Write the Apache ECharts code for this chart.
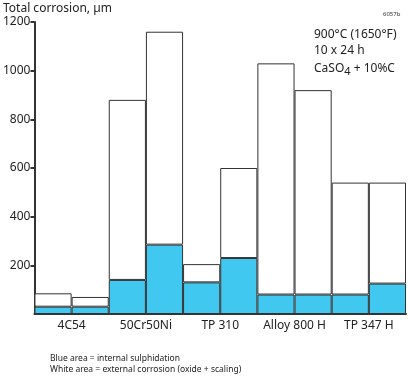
<!DOCTYPE html>
<html>
<head>
<meta charset="utf-8">
<script src="https://cdn.jsdelivr.net/npm/echarts@6/dist/echarts.min.js"></script>
<style>
html, body { margin: 0; padding: 0; background: #fff; }
#main { width: 408px; height: 376px; }
</style>
</head>
<body>
<div id="main"></div>
<script>
// two bars per alloy, left to right
var bars = ['4C54 a', '4C54 b', '50Cr50Ni a', '50Cr50Ni b', 'TP 310 a', 'TP 310 b',
            'Alloy 800 H a', 'Alloy 800 H b', 'TP 347 H a', 'TP 347 H b'];
var alloys = ['4C54', '50Cr50Ni', 'TP 310', 'Alloy 800 H', 'TP 347 H'];
var total = [85, 70, 880, 1160, 205, 600, 1030, 920, 540, 540];
var internal = [30, 30, 140, 285, 130, 230, 80, 80, 80, 125];
var external = total.map(function (t, i) { return t - internal[i]; });

var font = 'Noto Sans';

var chartDom = document.getElementById('main');
var myChart = echarts.init(chartDom);
var option;

option = {
    animation: false,
    grid: { left: 34, right: 2, top: 22, bottom: 62 },
    xAxis: [
        {
            type: 'category',
            data: bars,
            position: 'bottom',
            axisLine: { lineStyle: { color: '#333', width: 2 } },
            axisTick: { show: false },
            axisLabel: { show: false }
        },
        {
            type: 'category',
            data: alloys,
            position: 'bottom',
            axisLine: { show: false },
            axisTick: { show: false },
            axisLabel: { interval: 0, color: '#222', fontSize: 12, fontFamily: font, margin: 6 }
        }
    ],
    yAxis: {
        type: 'value',
        min: 0,
        max: 1200,
        interval: 200,
        splitLine: { show: false },
        axisLine: { show: true, lineStyle: { color: '#333', width: 2 } },
        axisTick: { show: true, length: 4, lineStyle: { color: '#333', width: 2 } },
        axisLabel: {
            showMinLabel: false, color: '#222', fontSize: 12, fontFamily: font, margin: 4,
            formatter: function (v) { return String(v); }
        }
    },
    series: [
        {
            name: 'internal',
            type: 'bar',
            stack: 'c',
            barWidth: '100%',
            data: internal,
            itemStyle: { color: '#40c8f0', borderColor: '#333', borderWidth: 1 }
        },
        {
            name: 'external',
            type: 'bar',
            stack: 'c',
            barWidth: '100%',
            data: external,
            itemStyle: { color: '#fff', borderColor: '#333', borderWidth: 1 }
        }
    ],
    graphic: [
        { type: 'text', left: 3, top: 3, style: { text: 'Total corrosion, µm', font: '12px ' + font, fill: '#222' } },
        { type: 'text', left: 383, top: 11, style: { text: '6057b', font: '6px ' + font, fill: '#333' } },
        { type: 'text', left: 314, top: 29, style: { text: '900°C (1650°F)', font: '12px ' + font, fill: '#222' } },
        { type: 'text', left: 314, top: 45, style: { text: '10 x 24 h', font: '12px ' + font, fill: '#222' } },
        {
            type: 'text', left: 314, top: 60,
            style: {
                text: '{a|CaSO}{s|4}{a| + 10%C}',
                rich: {
                    a: { font: '12px ' + font, fill: '#222', lineHeight: 16 },
                    s: { font: '11px ' + font, fill: '#222', padding: [6, 0, 0, 0], lineHeight: 16 }
                }
            }
        },
        { type: 'text', left: 50, top: 354, style: { text: 'Blue area = internal sulphidation', font: '8.5px ' + font, fill: '#222' } },
        { type: 'text', left: 50, top: 365, style: { text: 'White area = external corrosion (oxide + scaling)', font: '8.5px ' + font, fill: '#222' } }
    ]
};

option && myChart.setOption(option);
</script>
</body>
</html>
